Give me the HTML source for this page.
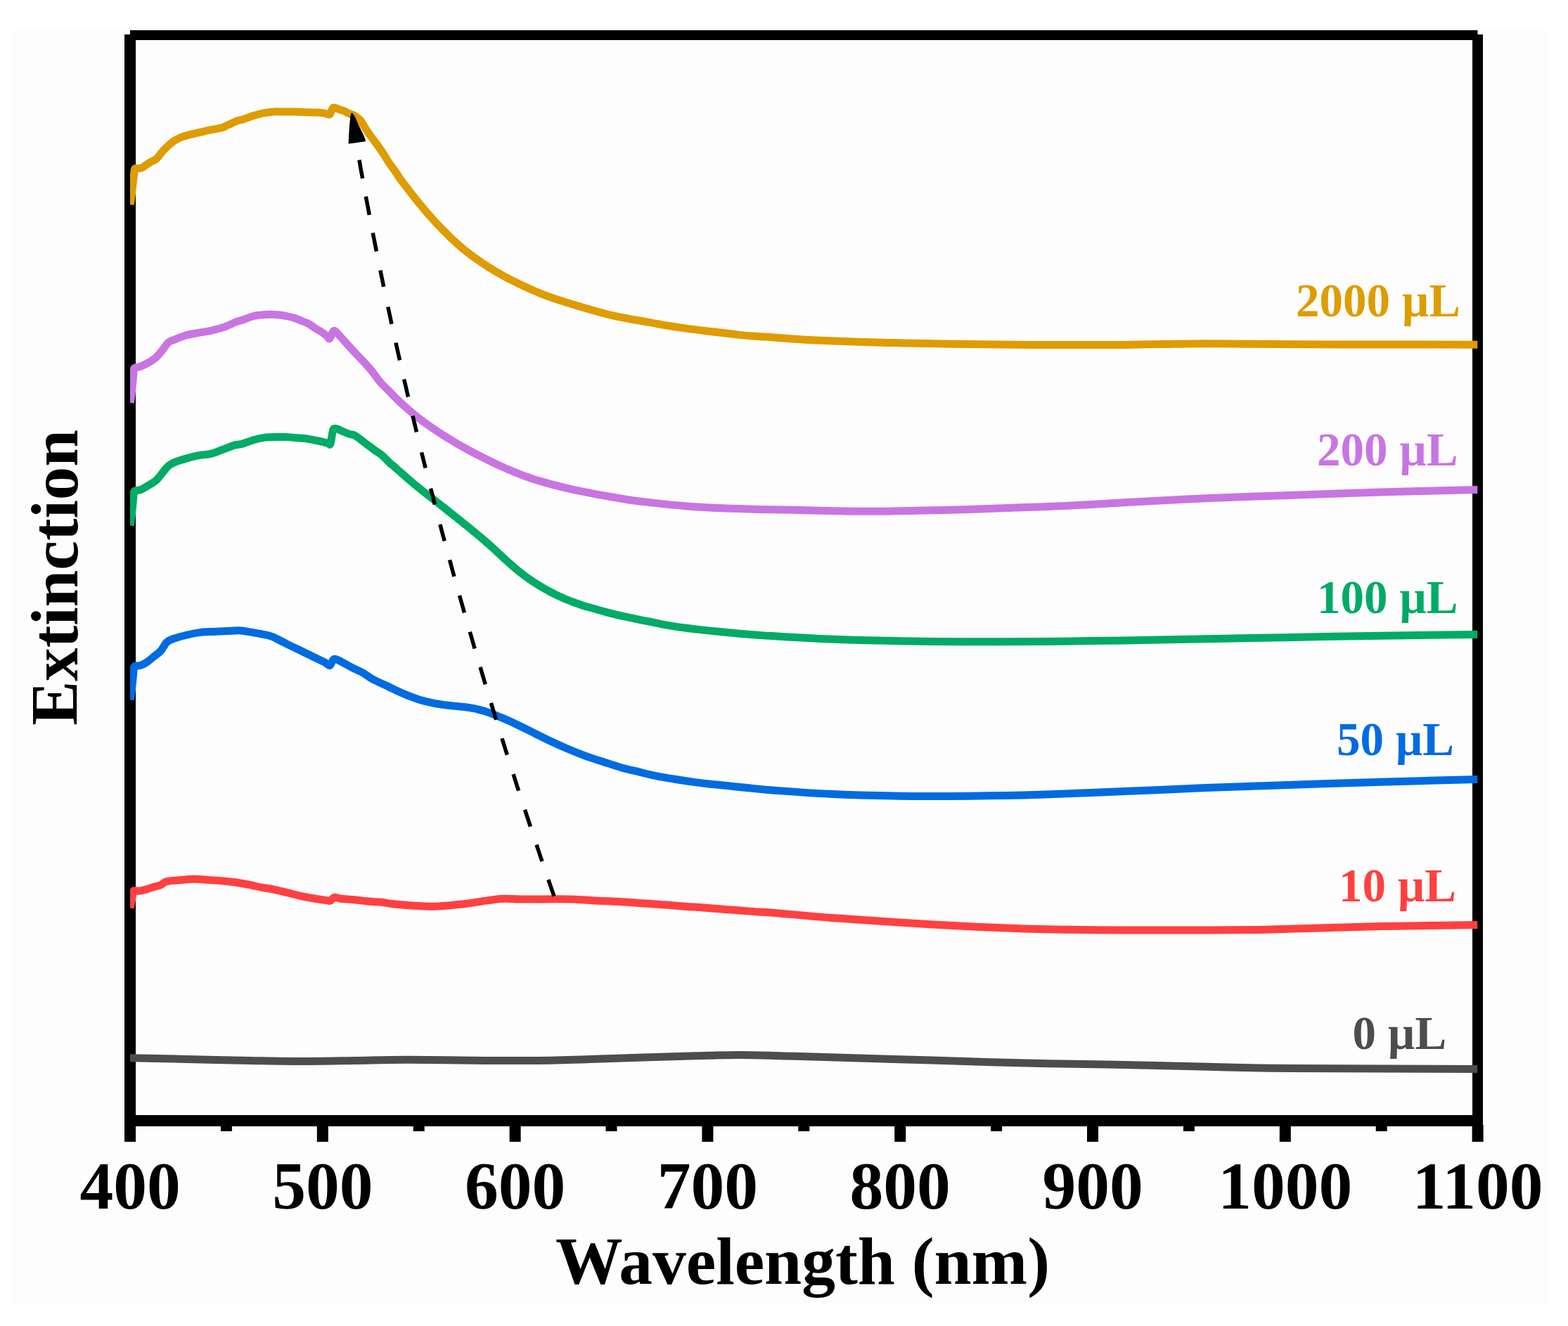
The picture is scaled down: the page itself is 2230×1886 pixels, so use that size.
<!DOCTYPE html><html><head><meta charset="utf-8"><style>html,body{margin:0;padding:0;background:#fff;}svg{display:block;}</style></head><body>
<svg width="2230" height="1886" viewBox="0 0 2230 1886">
<rect x="0" y="0" width="2230" height="1886" fill="#ffffff"/>
<rect x="16" y="43" width="2187" height="1810" fill="#fdfdfd"/>
<g stroke="#000" fill="none" stroke-linecap="butt">
<line x1="185.0" y1="50.0" x2="2101.5" y2="50.0" stroke-width="14"/>
<line x1="185.0" y1="49" x2="185.0" y2="1624" stroke-width="16"/>
<line x1="2101.5" y1="49" x2="2101.5" y2="1624" stroke-width="15"/>
<line x1="177" y1="1594.0" x2="2109" y2="1594.0" stroke-width="16"/>
<line x1="185.0" y1="1600" x2="185.0" y2="1624" stroke-width="16"/>
<line x1="458.8" y1="1600" x2="458.8" y2="1624" stroke-width="16"/>
<line x1="732.6" y1="1600" x2="732.6" y2="1624" stroke-width="16"/>
<line x1="1006.4" y1="1600" x2="1006.4" y2="1624" stroke-width="16"/>
<line x1="1280.2" y1="1600" x2="1280.2" y2="1624" stroke-width="16"/>
<line x1="1554.0" y1="1600" x2="1554.0" y2="1624" stroke-width="16"/>
<line x1="1827.8" y1="1600" x2="1827.8" y2="1624" stroke-width="16"/>
<line x1="2101.6" y1="1600" x2="2101.6" y2="1624" stroke-width="16"/>
<line x1="321.9" y1="1600" x2="321.9" y2="1609" stroke-width="16"/>
<line x1="595.7" y1="1600" x2="595.7" y2="1609" stroke-width="16"/>
<line x1="869.5" y1="1600" x2="869.5" y2="1609" stroke-width="16"/>
<line x1="1143.3" y1="1600" x2="1143.3" y2="1609" stroke-width="16"/>
<line x1="1417.1" y1="1600" x2="1417.1" y2="1609" stroke-width="16"/>
<line x1="1690.9" y1="1600" x2="1690.9" y2="1609" stroke-width="16"/>
<line x1="1964.7" y1="1600" x2="1964.7" y2="1609" stroke-width="16"/>
</g>
<defs><clipPath id="pc"><rect x="185" y="0" width="1916.5" height="1886"/></clipPath></defs>
<g fill="none" stroke-width="11" stroke-linejoin="round" stroke-linecap="butt" clip-path="url(#pc)">
<path stroke="#4D4D4D" d="M185.0,1504.8 C196.6,1505.0 226.5,1505.6 254.8,1506.2 C283.1,1506.8 325.5,1508.0 354.6,1508.5 C383.7,1509.0 404.5,1509.5 429.4,1509.5 C454.3,1509.5 479.3,1508.9 504.2,1508.5 C529.1,1508.1 548.0,1507.3 579.0,1507.3 C610.0,1507.3 659.0,1508.2 690.0,1508.4 C721.0,1508.6 739.9,1508.7 764.8,1508.4 C789.7,1508.1 814.7,1507.3 839.6,1506.6 C864.5,1505.9 889.5,1504.9 914.4,1504.1 C939.3,1503.3 966.4,1502.4 989.3,1501.8 C1012.2,1501.2 1030.8,1500.4 1051.6,1500.4 C1072.4,1500.4 1091.0,1501.3 1113.9,1501.9 C1136.8,1502.5 1153.7,1503.1 1188.8,1504.1 C1223.9,1505.1 1281.3,1506.8 1324.7,1508.1 C1368.1,1509.4 1407.9,1510.8 1449.4,1511.8 C1491.0,1512.8 1529.1,1513.2 1574.0,1514.1 C1618.9,1515.0 1674.9,1516.3 1718.7,1517.2 C1762.5,1518.1 1773.2,1519.1 1837.0,1519.6 C1900.8,1520.1 2057.4,1520.3 2101.5,1520.4"/>
<path stroke="#FF4040" d="M185.3,1291.5 C185.7,1289.4 186.8,1282.9 187.5,1279.0 C188.2,1275.1 189.1,1270.0 189.8,1268.0 C190.6,1266.0 190.4,1267.2 192.0,1267.0 C193.6,1266.8 196.4,1267.5 199.2,1267.1 C202.0,1266.7 205.6,1265.6 208.8,1264.7 C212.0,1263.8 215.2,1262.5 218.4,1261.6 C221.6,1260.6 224.7,1260.3 227.9,1259.0 C231.1,1257.7 232.7,1254.9 237.5,1253.7 C242.3,1252.5 250.3,1252.4 256.7,1251.8 C263.1,1251.2 269.5,1250.3 275.9,1250.3 C282.3,1250.2 288.7,1251.1 295.1,1251.5 C301.5,1251.9 307.8,1252.2 314.2,1252.7 C320.6,1253.2 327.0,1253.9 333.4,1254.8 C339.8,1255.7 346.2,1256.8 352.6,1258.0 C359.0,1259.2 365.7,1261.0 371.8,1262.2 C377.9,1263.4 383.1,1263.8 389.2,1265.1 C395.3,1266.3 402.0,1268.2 408.4,1269.7 C414.8,1271.2 421.1,1273.0 427.5,1274.4 C433.9,1275.8 440.3,1276.9 446.7,1278.0 C453.1,1279.1 462.0,1280.4 465.9,1280.9 C469.8,1281.4 468.4,1281.8 470.0,1281.0 C471.6,1280.2 473.0,1276.9 475.5,1276.4 C478.0,1276.0 480.2,1277.8 485.0,1278.3 C489.8,1278.8 497.8,1279.1 504.2,1279.7 C510.6,1280.3 517.0,1281.5 523.4,1282.1 C529.8,1282.7 536.2,1282.6 542.6,1283.3 C549.0,1284.0 554.6,1285.2 561.8,1286.0 C569.0,1286.8 577.6,1287.4 585.9,1287.9 C594.2,1288.4 603.2,1289.2 611.8,1289.2 C620.4,1289.2 629.1,1288.6 637.7,1287.9 C646.3,1287.2 654.9,1286.4 663.5,1285.3 C672.1,1284.2 680.8,1282.6 689.4,1281.4 C698.0,1280.2 706.7,1278.7 715.3,1278.3 C723.9,1277.9 728.2,1279.0 741.2,1279.1 C754.2,1279.2 780.0,1278.8 793.0,1278.8 C806.0,1278.8 810.3,1278.9 818.9,1279.3 C827.5,1279.7 836.2,1280.5 844.8,1280.9 C853.4,1281.3 862.0,1281.5 870.6,1281.9 C879.2,1282.3 887.9,1282.9 896.5,1283.5 C905.1,1284.1 913.8,1284.7 922.4,1285.3 C931.0,1285.9 939.7,1286.4 948.3,1287.1 C956.9,1287.8 965.6,1288.5 974.2,1289.2 C982.8,1289.9 991.4,1290.3 1000.0,1291.0 C1008.6,1291.7 1017.4,1292.4 1026.0,1293.1 C1034.6,1293.8 1043.2,1294.2 1051.8,1294.9 C1060.4,1295.6 1069.9,1296.5 1077.7,1297.0 C1085.5,1297.5 1081.4,1296.8 1098.4,1298.2 C1115.4,1299.6 1149.6,1303.0 1179.8,1305.3 C1210.0,1307.6 1246.3,1309.9 1279.5,1312.0 C1312.7,1314.1 1346.0,1316.1 1379.2,1317.7 C1412.5,1319.3 1442.4,1320.6 1479.0,1321.5 C1515.6,1322.4 1559.4,1322.8 1598.7,1323.0 C1638.0,1323.2 1682.9,1323.1 1714.7,1323.0 C1746.5,1322.9 1768.7,1322.8 1789.5,1322.5 C1810.3,1322.2 1810.3,1321.7 1839.4,1320.9 C1868.5,1320.1 1920.3,1318.5 1964.0,1317.6 C2007.7,1316.7 2078.6,1315.8 2101.5,1315.4"/>
<path stroke="#006BE1" d="M185.3,995.5 C185.8,992.1 187.2,981.5 188.0,975.0 C188.8,968.5 189.4,961.0 189.8,956.7 C190.2,952.4 190.0,950.6 190.5,949.0 C191.0,947.4 191.6,947.4 193.0,947.0 C194.4,946.6 196.6,947.5 199.2,946.6 C201.8,945.7 205.6,943.9 208.8,941.8 C212.0,939.7 215.2,936.8 218.4,934.2 C221.6,931.7 225.5,928.9 227.9,926.5 C230.3,924.1 231.1,922.0 232.7,919.8 C234.3,917.6 235.1,915.0 237.5,913.1 C239.9,911.2 242.3,910.0 247.1,908.3 C251.9,906.6 259.9,904.5 266.3,903.0 C272.7,901.5 279.1,900.2 285.5,899.4 C291.9,898.6 298.2,898.7 304.6,898.4 C311.0,898.1 317.4,897.6 323.8,897.4 C330.2,897.2 336.6,896.5 343.0,897.0 C349.4,897.5 357.7,899.4 362.2,900.1 C366.7,900.9 366.1,900.7 370.0,901.5 C373.9,902.3 380.2,903.1 385.3,904.9 C390.4,906.7 395.6,909.7 400.7,912.2 C405.8,914.7 410.9,917.4 416.0,919.9 C421.1,922.4 426.2,924.7 431.3,927.2 C436.4,929.7 441.6,932.3 446.7,934.8 C451.8,937.3 458.3,940.1 462.0,942.1 C465.7,944.1 466.7,947.5 468.9,946.7 C471.1,945.9 472.4,938.5 475.1,937.5 C477.8,936.5 480.8,939.0 485.0,941.0 C489.2,943.0 495.3,946.8 500.4,949.4 C505.5,952.0 510.8,953.9 515.7,956.7 C520.6,959.5 524.4,962.9 530.0,966.0 C535.6,969.1 545.2,973.1 549.2,975.0 C553.2,976.9 552.5,976.7 554.2,977.5 C555.9,978.3 557.5,979.1 559.2,979.9 C560.9,980.7 562.5,981.5 564.2,982.3 C565.9,983.0 567.5,983.8 569.2,984.6 C570.9,985.3 572.5,986.0 574.2,986.8 C575.9,987.5 577.5,988.2 579.2,988.9 C580.9,989.6 582.5,990.2 584.2,990.9 C585.9,991.5 587.5,992.1 589.2,992.7 C590.9,993.3 592.5,993.8 594.2,994.4 C595.9,994.9 597.5,995.4 599.2,995.9 C600.9,996.4 602.5,996.8 604.2,997.3 C605.9,997.7 607.5,998.1 609.2,998.5 C610.9,998.9 612.5,999.3 614.2,999.6 C615.9,1000.0 617.5,1000.3 619.2,1000.6 C620.9,1000.9 622.5,1001.2 624.2,1001.4 C625.9,1001.7 627.5,1002.0 629.2,1002.2 C630.9,1002.4 632.5,1002.6 634.2,1002.9 C635.9,1003.1 637.5,1003.3 639.2,1003.4 C640.9,1003.6 642.5,1003.8 644.2,1003.9 C645.9,1004.1 647.5,1004.2 649.2,1004.4 C650.9,1004.6 652.5,1004.7 654.2,1004.9 C655.9,1005.0 657.5,1005.2 659.2,1005.4 C660.9,1005.6 662.5,1005.8 664.2,1006.0 C665.9,1006.3 667.5,1006.5 669.2,1006.8 C670.9,1007.1 672.5,1007.4 674.2,1007.7 C675.9,1008.0 677.5,1008.4 679.2,1008.8 C680.9,1009.2 682.5,1009.6 684.2,1010.1 C685.9,1010.6 687.5,1011.1 689.2,1011.6 C690.9,1012.1 692.5,1012.7 694.2,1013.3 C695.9,1013.8 697.5,1014.5 699.2,1015.1 C700.9,1015.7 702.5,1016.4 704.2,1017.0 C705.9,1017.7 707.5,1018.4 709.2,1019.1 C710.9,1019.7 712.5,1020.4 714.2,1021.1 C715.9,1021.8 717.5,1022.5 719.2,1023.2 C720.9,1024.0 722.7,1024.7 724.2,1025.4 C725.7,1026.1 723.3,1024.8 728.3,1027.2 C733.3,1029.7 745.6,1035.6 754.2,1039.9 C762.8,1044.2 771.4,1048.7 780.0,1052.8 C788.6,1056.9 797.3,1060.8 805.9,1064.5 C814.5,1068.2 823.2,1071.6 831.8,1074.8 C840.4,1078.0 849.1,1080.6 857.7,1083.4 C866.3,1086.2 875.0,1089.2 883.6,1091.7 C892.2,1094.2 900.9,1096.0 909.5,1098.1 C918.1,1100.2 926.8,1102.4 935.4,1104.1 C944.0,1105.8 952.6,1107.1 961.2,1108.5 C969.8,1109.9 978.5,1111.2 987.1,1112.4 C995.7,1113.6 1004.4,1114.5 1013.0,1115.5 C1021.6,1116.5 1030.3,1117.2 1038.9,1118.1 C1047.5,1119.0 1054.9,1119.7 1064.8,1120.7 C1074.7,1121.7 1079.2,1122.6 1098.4,1124.0 C1117.6,1125.4 1149.6,1127.9 1179.8,1129.3 C1210.0,1130.7 1246.3,1131.7 1279.5,1132.2 C1312.7,1132.7 1346.0,1132.5 1379.2,1132.2 C1412.5,1131.9 1442.4,1131.4 1479.0,1130.3 C1515.6,1129.2 1559.4,1127.2 1598.7,1125.6 C1638.0,1124.0 1674.6,1122.2 1714.7,1120.6 C1754.8,1119.0 1797.9,1117.6 1839.4,1116.2 C1881.0,1114.8 1920.3,1113.5 1964.0,1112.2 C2007.7,1110.9 2078.6,1109.0 2101.5,1108.4"/>
<path stroke="#00AB66" d="M185.3,747.5 C185.8,743.9 187.2,732.9 188.0,726.0 C188.8,719.1 189.4,710.5 189.9,706.0 C190.4,701.5 190.0,700.4 190.8,699.0 C191.7,697.6 193.2,698.0 195.0,697.5 C196.8,697.0 198.1,697.4 201.3,695.9 C204.5,694.4 210.5,690.9 214.0,688.7 C217.5,686.5 219.7,685.4 222.5,682.7 C225.3,680.0 228.2,675.8 231.0,672.5 C233.8,669.2 236.7,665.2 239.5,662.7 C242.3,660.2 243.8,659.4 248.0,657.6 C252.2,655.8 259.3,653.7 265.0,652.1 C270.7,650.5 276.3,648.9 282.0,647.8 C287.7,646.7 293.3,647.0 299.0,645.7 C304.7,644.4 310.3,641.8 316.0,639.8 C321.7,637.8 328.1,634.8 333.0,633.4 C337.9,632.0 340.7,632.4 345.3,631.1 C349.9,629.8 355.6,627.2 360.7,625.7 C365.8,624.2 370.9,623.1 376.0,622.4 C381.1,621.7 386.2,621.6 391.3,621.5 C396.4,621.4 401.6,621.3 406.7,621.5 C411.8,621.7 416.9,622.3 422.0,622.8 C427.1,623.2 432.3,623.5 437.4,624.2 C442.5,624.9 448.9,626.4 452.7,627.2 C456.5,628.0 458.0,628.2 460.4,628.8 C462.8,629.4 465.4,630.4 467.0,630.8 C468.6,631.2 468.9,634.1 470.0,631.0 C471.1,627.9 472.4,615.6 473.5,612.0 C474.6,608.4 475.2,609.8 476.5,609.5 C477.8,609.2 479.4,609.9 481.0,610.5 C482.6,611.1 483.2,611.8 486.0,613.0 C488.8,614.2 494.6,616.6 497.5,617.6 C500.4,618.6 501.4,618.0 503.3,618.8 C505.2,619.6 506.1,620.2 509.0,622.2 C511.9,624.2 516.8,628.2 520.6,631.1 C524.5,634.0 528.3,637.0 532.1,639.8 C535.9,642.6 539.8,644.5 543.6,647.8 C547.4,651.0 552.4,656.8 555.1,659.3 C557.8,661.8 558.4,661.7 560.0,663.0 C561.6,664.4 563.3,666.0 565.0,667.5 C566.7,669.0 568.3,670.5 570.0,672.0 C571.7,673.4 573.3,674.9 575.0,676.4 C576.7,677.9 578.3,679.4 580.0,680.8 C581.7,682.2 583.3,683.7 585.0,685.1 C586.7,686.5 588.3,687.9 590.0,689.3 C591.7,690.6 593.3,692.0 595.0,693.3 C596.7,694.7 598.3,696.0 600.0,697.3 C601.7,698.6 603.3,699.9 605.0,701.3 C606.7,702.6 608.3,703.9 610.0,705.2 C611.7,706.5 613.3,707.8 615.0,709.1 C616.7,710.4 618.3,711.7 620.0,713.0 C621.7,714.3 623.3,715.7 625.0,717.0 C626.7,718.3 628.3,719.6 630.0,720.9 C631.7,722.2 633.3,723.5 635.0,724.9 C636.7,726.2 638.3,727.5 640.0,728.8 C641.7,730.1 643.3,731.4 645.0,732.8 C646.7,734.1 648.3,735.4 650.0,736.7 C651.7,738.1 653.3,739.4 655.0,740.7 C656.7,742.1 658.3,743.4 660.0,744.8 C661.7,746.1 663.3,747.5 665.0,748.8 C666.7,750.2 668.3,751.5 670.0,752.9 C671.7,754.3 673.3,755.6 675.0,757.0 C676.7,758.4 678.3,759.8 680.0,761.2 C681.7,762.6 683.3,764.0 685.0,765.4 C686.7,766.8 688.3,768.2 690.0,769.7 C691.7,771.1 693.3,772.6 695.0,774.1 C696.7,775.5 698.3,777.0 700.0,778.5 C701.7,780.1 703.3,781.6 705.0,783.1 C706.7,784.7 708.3,786.2 710.0,787.8 C711.7,789.3 713.3,790.9 715.0,792.4 C716.7,794.0 718.3,795.5 720.0,797.0 C721.7,798.5 723.3,800.1 725.0,801.6 C726.7,803.0 728.3,804.5 730.0,805.9 C731.7,807.4 733.3,808.8 735.0,810.2 C736.7,811.5 738.3,812.9 740.0,814.2 C741.7,815.5 743.3,816.8 745.0,818.0 C746.7,819.3 748.3,820.5 750.0,821.7 C751.7,822.9 753.3,824.0 755.0,825.2 C756.7,826.3 758.3,827.4 760.0,828.5 C761.7,829.6 763.3,830.6 765.0,831.6 C766.7,832.7 768.3,833.7 770.0,834.7 C771.7,835.7 773.3,836.6 775.0,837.6 C776.7,838.5 778.3,839.5 780.0,840.4 C781.7,841.3 783.3,842.2 785.0,843.0 C786.7,843.9 788.3,844.7 790.0,845.6 C791.7,846.4 793.3,847.2 795.0,848.0 C796.7,848.7 798.3,849.5 800.0,850.2 C801.7,851.0 803.3,851.7 805.0,852.4 C806.7,853.1 808.3,853.7 810.0,854.4 C811.7,855.0 813.3,855.7 815.0,856.3 C816.7,856.9 818.3,857.5 820.0,858.1 C821.7,858.7 823.3,859.3 825.0,859.8 C826.7,860.4 828.6,861.0 830.0,861.5 C831.4,862.0 830.9,861.9 833.4,862.6 C835.9,863.3 838.6,864.1 844.8,865.8 C851.0,867.5 862.0,870.6 870.6,872.8 C879.2,874.9 887.9,876.9 896.5,878.7 C905.1,880.6 913.8,882.2 922.4,883.9 C931.0,885.6 939.7,887.6 948.3,889.1 C956.9,890.6 965.6,891.8 974.2,893.0 C982.8,894.2 991.4,895.1 1000.0,896.1 C1008.6,897.1 1017.4,897.8 1026.0,898.7 C1034.6,899.6 1043.2,900.5 1051.8,901.3 C1060.4,902.1 1069.9,902.8 1077.7,903.3 C1085.5,903.8 1081.4,903.6 1098.4,904.6 C1115.4,905.6 1149.6,907.8 1179.8,909.0 C1210.0,910.2 1246.3,911.1 1279.5,911.7 C1312.7,912.3 1346.0,912.7 1379.2,912.8 C1412.5,912.9 1442.4,912.8 1479.0,912.5 C1515.6,912.2 1559.4,911.5 1598.7,910.9 C1638.0,910.3 1674.6,909.5 1714.7,908.7 C1754.8,908.0 1797.9,907.1 1839.4,906.4 C1881.0,905.6 1920.3,904.9 1964.0,904.2 C2007.7,903.5 2078.6,902.7 2101.5,902.4"/>
<path stroke="#C875E2" d="M185.3,573.0 C185.8,569.5 187.2,558.8 188.0,552.0 C188.8,545.2 189.3,536.7 189.8,532.0 C190.3,527.3 189.9,525.6 190.8,524.0 C191.7,522.4 193.2,523.1 195.0,522.5 C196.8,521.9 198.1,522.0 201.3,520.6 C204.5,519.2 210.5,516.3 214.0,514.2 C217.5,512.1 219.7,510.5 222.5,507.8 C225.3,505.1 228.2,501.5 231.0,498.0 C233.8,494.5 236.7,489.5 239.5,487.0 C242.3,484.5 243.8,484.8 248.0,483.1 C252.2,481.4 259.3,478.4 265.0,476.8 C270.7,475.2 276.3,474.4 282.0,473.4 C287.7,472.4 293.3,471.8 299.0,470.6 C304.7,469.4 311.7,467.4 316.0,466.1 C320.3,464.8 321.1,464.2 324.6,462.7 C328.2,461.2 333.9,458.5 337.3,457.2 C340.8,455.9 341.4,456.3 345.3,455.0 C349.2,453.7 355.6,450.7 360.7,449.5 C365.8,448.3 370.9,448.0 376.0,447.6 C381.1,447.2 387.3,447.3 391.3,447.4 C395.3,447.5 396.9,447.9 400.0,448.3 C403.1,448.7 406.4,449.3 409.6,450.0 C412.8,450.7 416.0,451.4 419.2,452.5 C422.4,453.6 425.6,455.0 428.8,456.3 C432.0,457.6 435.2,458.7 438.4,460.4 C441.6,462.1 444.7,464.6 447.9,466.6 C451.1,468.6 454.7,470.6 457.5,472.4 C460.3,474.2 462.6,476.1 464.5,477.6 C466.4,479.1 467.2,482.7 468.9,481.5 C470.6,480.3 472.5,471.0 474.9,470.4 C477.3,469.8 480.9,475.4 483.4,477.9 C485.9,480.4 486.6,481.6 490.0,485.3 C493.4,489.0 499.1,495.4 503.6,500.3 C508.1,505.2 513.0,510.0 517.2,514.6 C521.4,519.2 525.0,523.1 529.0,528.0 C533.0,532.9 537.3,539.4 541.3,544.0 C545.2,548.6 550.0,552.7 552.7,555.5 C555.4,558.3 556.0,559.1 557.7,560.8 C559.4,562.5 561.0,564.2 562.7,565.9 C564.4,567.5 566.0,569.1 567.7,570.7 C569.4,572.3 571.0,573.9 572.7,575.4 C574.4,576.9 576.0,578.4 577.7,579.9 C579.4,581.4 581.0,582.8 582.7,584.2 C584.4,585.7 586.0,587.1 587.7,588.4 C589.4,589.8 591.0,591.1 592.7,592.5 C594.4,593.8 596.0,595.1 597.7,596.4 C599.4,597.6 601.0,598.9 602.7,600.1 C604.4,601.4 606.0,602.6 607.7,603.8 C609.4,605.0 611.0,606.1 612.7,607.3 C614.4,608.5 616.0,609.6 617.7,610.7 C619.4,611.8 621.0,613.0 622.7,614.0 C624.4,615.1 626.0,616.2 627.7,617.3 C629.4,618.3 631.0,619.4 632.7,620.4 C634.4,621.5 636.0,622.5 637.7,623.6 C639.4,624.6 641.0,625.6 642.7,626.6 C644.4,627.6 646.0,628.6 647.7,629.6 C649.4,630.6 651.0,631.6 652.7,632.5 C654.4,633.5 656.0,634.4 657.7,635.4 C659.4,636.3 661.0,637.3 662.7,638.2 C664.4,639.1 666.0,640.0 667.7,640.9 C669.4,641.8 671.0,642.7 672.7,643.5 C674.4,644.4 676.0,645.3 677.7,646.2 C679.4,647.0 681.0,647.9 682.7,648.7 C684.4,649.5 686.0,650.4 687.7,651.2 C689.4,652.1 691.0,652.9 692.7,653.7 C694.4,654.5 696.0,655.3 697.7,656.1 C699.4,657.0 701.0,657.8 702.7,658.6 C704.4,659.4 706.0,660.1 707.7,660.9 C709.4,661.7 711.0,662.5 712.7,663.2 C714.4,664.0 716.0,664.8 717.7,665.5 C719.4,666.2 721.0,667.0 722.7,667.7 C724.4,668.4 726.0,669.1 727.7,669.8 C729.4,670.5 731.0,671.2 732.7,671.9 C734.4,672.6 736.0,673.2 737.7,673.9 C739.4,674.5 741.0,675.2 742.7,675.8 C744.4,676.4 746.0,677.0 747.7,677.6 C749.4,678.2 751.8,679.1 752.7,679.4 C753.7,679.7 751.0,678.9 753.4,679.6 C755.8,680.4 760.5,682.1 767.1,684.0 C773.7,685.9 784.4,689.0 793.0,691.2 C801.6,693.4 810.3,695.3 818.9,697.2 C827.5,699.1 836.2,700.8 844.8,702.4 C853.4,704.0 862.0,705.5 870.6,707.0 C879.2,708.5 887.9,710.0 896.5,711.2 C905.1,712.5 913.8,713.5 922.4,714.5 C931.0,715.5 939.7,716.5 948.3,717.4 C956.9,718.3 965.6,719.0 974.2,719.7 C982.8,720.4 991.4,721.0 1000.0,721.5 C1008.6,722.0 1017.4,722.4 1026.0,722.8 C1034.6,723.1 1043.2,723.3 1051.8,723.6 C1060.4,723.9 1060.5,724.0 1077.7,724.4 C1094.9,724.8 1129.5,725.4 1154.8,725.9 C1180.1,726.4 1204.7,727.2 1229.6,727.3 C1254.5,727.4 1279.5,726.8 1304.4,726.3 C1329.3,725.8 1354.3,725.2 1379.2,724.5 C1404.1,723.8 1429.0,722.8 1454.0,721.8 C1479.0,720.8 1504.8,720.0 1528.9,718.8 C1553.0,717.6 1567.7,716.4 1598.7,714.7 C1629.7,713.0 1674.6,710.5 1714.7,708.7 C1754.8,707.0 1797.9,705.7 1839.4,704.2 C1881.0,702.8 1920.3,701.3 1964.0,700.0 C2007.7,698.7 2078.6,697.2 2101.5,696.6"/>
<path stroke="#DE9C00" d="M185.3,291.0 C185.8,287.5 187.2,276.8 188.0,270.0 C188.8,263.2 189.8,254.9 190.4,250.0 C191.0,245.1 190.7,242.2 191.5,240.5 C192.3,238.8 193.4,239.8 195.0,239.5 C196.6,239.2 199.1,239.7 201.3,238.9 C203.5,238.1 205.9,235.9 208.0,234.5 C210.1,233.1 211.6,231.8 214.0,230.4 C216.4,229.0 219.7,228.4 222.5,225.9 C225.3,223.4 228.2,218.7 231.0,215.5 C233.8,212.3 236.7,209.6 239.5,207.0 C242.3,204.4 245.2,202.0 248.0,200.2 C250.8,198.4 253.2,197.2 256.0,196.0 C258.8,194.8 260.7,194.1 265.0,192.9 C269.3,191.7 276.3,190.0 282.0,188.7 C287.7,187.4 293.3,186.1 299.0,184.9 C304.7,183.7 311.7,182.7 316.0,181.5 C320.3,180.3 321.1,179.2 324.6,177.6 C328.2,176.0 333.9,173.2 337.3,171.9 C340.8,170.6 341.4,171.1 345.3,169.9 C349.2,168.7 355.6,166.0 360.7,164.5 C365.8,163.0 370.9,161.6 376.0,160.7 C381.1,159.8 386.2,159.1 391.3,158.8 C396.4,158.5 401.6,159.1 406.7,159.1 C411.8,159.1 416.9,158.9 422.0,159.0 C427.1,159.1 432.3,159.6 437.4,159.8 C442.5,160.0 448.9,159.9 452.7,160.1 C456.5,160.3 457.9,160.3 460.4,160.8 C462.9,161.3 465.9,163.0 467.5,163.0 C469.1,163.0 468.9,162.7 470.0,161.0 C471.1,159.3 472.1,153.8 474.3,153.0 C476.5,152.2 480.8,155.3 483.4,156.1 C486.0,156.9 488.1,157.2 490.0,158.0 C491.9,158.8 492.8,159.9 495.0,160.9 C497.2,161.9 500.1,162.3 503.0,164.0 C505.9,165.7 509.8,168.0 512.5,171.0 C515.2,174.0 516.8,178.2 519.3,182.0 C521.8,185.8 524.5,189.8 527.5,194.0 C530.5,198.2 534.4,203.1 537.4,207.3 C540.4,211.6 543.1,215.5 545.7,219.5 C548.4,223.5 550.4,227.2 553.3,231.5 C556.2,235.8 560.3,241.1 563.0,245.0 C565.7,248.9 566.2,250.4 569.5,255.0 C572.8,259.6 579.9,268.5 583.0,272.5 C586.1,276.5 586.3,276.9 588.0,279.0 C589.7,281.2 591.3,283.3 593.0,285.4 C594.7,287.4 596.3,289.5 598.0,291.5 C599.7,293.5 601.3,295.5 603.0,297.5 C604.7,299.5 606.3,301.4 608.0,303.3 C609.7,305.2 611.3,307.1 613.0,309.0 C614.7,310.9 616.3,312.7 618.0,314.5 C619.7,316.3 621.3,318.1 623.0,319.9 C624.7,321.6 626.3,323.4 628.0,325.1 C629.7,326.8 631.3,328.5 633.0,330.2 C634.7,331.9 636.3,333.5 638.0,335.2 C639.7,336.8 641.3,338.4 643.0,340.0 C644.7,341.5 646.3,343.1 648.0,344.6 C649.7,346.1 651.3,347.6 653.0,349.1 C654.7,350.5 656.3,352.0 658.0,353.4 C659.7,354.8 661.3,356.1 663.0,357.5 C664.7,358.8 666.3,360.1 668.0,361.3 C669.7,362.6 671.3,363.8 673.0,365.1 C674.7,366.3 676.3,367.5 678.0,368.6 C679.7,369.8 681.3,370.9 683.0,372.1 C684.7,373.2 686.3,374.3 688.0,375.4 C689.7,376.5 691.3,377.6 693.0,378.6 C694.7,379.7 696.3,380.8 698.0,381.8 C699.7,382.8 701.3,383.9 703.0,384.9 C704.7,385.9 706.3,386.9 708.0,387.9 C709.7,388.8 711.3,389.8 713.0,390.7 C714.7,391.7 716.3,392.6 718.0,393.5 C719.7,394.4 721.3,395.3 723.0,396.2 C724.7,397.0 726.3,397.9 728.0,398.7 C729.7,399.6 731.3,400.4 733.0,401.2 C734.7,402.1 736.3,402.9 738.0,403.7 C739.7,404.5 741.3,405.3 743.0,406.0 C744.7,406.8 746.3,407.6 748.0,408.4 C749.7,409.1 751.3,409.9 753.0,410.7 C754.7,411.4 756.3,412.1 758.0,412.9 C759.7,413.6 761.3,414.3 763.0,415.0 C764.7,415.7 766.3,416.4 768.0,417.1 C769.7,417.8 771.3,418.4 773.0,419.1 C774.7,419.7 776.3,420.3 778.0,421.0 C779.7,421.6 781.3,422.2 783.0,422.8 C784.7,423.3 786.3,423.9 788.0,424.5 C789.7,425.1 791.3,425.6 793.0,426.2 C794.7,426.7 796.3,427.2 798.0,427.8 C799.7,428.3 801.3,428.8 803.0,429.4 C804.7,429.9 806.3,430.4 808.0,430.9 C809.7,431.5 811.3,432.0 813.0,432.5 C814.7,433.0 816.3,433.5 818.0,434.0 C819.7,434.5 818.5,434.2 823.0,435.5 C827.5,436.8 836.9,439.6 844.8,441.8 C852.7,444.0 862.0,446.7 870.6,448.7 C879.2,450.7 887.9,452.3 896.5,453.9 C905.1,455.5 913.8,456.8 922.4,458.3 C931.0,459.8 939.7,461.6 948.3,463.0 C956.9,464.4 965.6,465.7 974.2,466.9 C982.8,468.1 991.4,469.1 1000.0,470.2 C1008.6,471.3 1017.4,472.3 1026.0,473.3 C1034.6,474.3 1043.2,475.5 1051.8,476.4 C1060.4,477.3 1069.9,477.9 1077.7,478.5 C1085.5,479.1 1085.6,478.9 1098.4,479.8 C1111.2,480.7 1128.8,482.6 1154.8,483.8 C1180.8,485.0 1221.3,486.3 1254.6,487.2 C1287.8,488.1 1319.0,488.7 1354.3,489.2 C1389.6,489.7 1425.8,490.2 1466.5,490.4 C1507.2,490.6 1557.3,490.7 1598.7,490.4 C1640.1,490.1 1672.8,488.9 1714.7,488.8 C1756.6,488.7 1802.5,489.6 1850.0,489.8 C1897.5,490.0 1958.1,489.9 2000.0,490.0 C2041.9,490.1 2084.6,490.2 2101.5,490.3"/>
</g>
<g stroke="#000" stroke-width="5.5" fill="none" stroke-linecap="butt">
<polyline points="510.9,227.6 512.1,234.2 513.2,240.7 514.4,247.2 515.6,253.8"/>
<polyline points="520.3,279.5 521.6,286.1 522.8,292.6 524.1,299.2 525.3,305.8"/>
<polyline points="530.2,331.2 531.5,337.8 532.8,344.4 534.1,350.9 535.4,357.5"/>
<polyline points="540.9,384.5 542.1,390.4 543.3,396.2 544.5,402.0 545.7,407.9"/>
<polyline points="551.8,436.5 553.1,442.6 554.4,448.7 555.7,454.8 557.0,460.9"/>
<polyline points="562.9,487.5 564.3,493.7 565.7,499.9 567.1,506.1 568.5,512.3"/>
<polyline points="574.6,539.3 576.1,545.6 577.6,551.9 579.0,558.2 580.5,564.5"/>
<polyline points="586.9,591.5 588.3,597.2 589.7,603.0 591.1,608.8 592.5,614.5"/>
<polyline points="599.5,643.3 600.9,648.9 602.3,654.5 603.7,660.0 605.1,665.6"/>
<polyline points="612.5,694.7 614.0,700.4 615.5,706.1 616.9,711.8 618.4,717.5"/>
<polyline points="625.9,745.9 627.4,751.8 629.0,757.7 630.6,763.6 632.2,769.5"/>
<polyline points="639.5,796.4 641.1,802.3 642.7,808.2 644.3,814.1 646.0,820.0"/>
<polyline points="653.5,846.9 655.2,853.0 656.9,859.1 658.7,865.3 660.4,871.4"/>
<polyline points="668.2,898.7 670.0,904.6 671.7,910.5 673.4,916.5 675.1,922.4"/>
<polyline points="683.0,948.9 684.8,955.0 686.6,961.1 688.5,967.3 690.3,973.4"/>
<polyline points="698.3,999.9 700.2,1005.9 702.0,1011.8 703.8,1017.8 705.7,1023.7"/>
<polyline points="713.9,1050.2 715.7,1056.1 717.6,1062.0 719.4,1067.8 721.3,1073.7"/>
<polyline points="730.1,1101.2 732.0,1107.1 733.8,1113.0 735.7,1118.8 737.6,1124.7"/>
<polyline points="746.5,1151.7 748.4,1157.7 750.4,1163.7 752.4,1169.7 754.4,1175.7"/>
<polyline points="763.0,1201.5 765.0,1207.4 767.0,1213.3 769.0,1219.3 771.0,1225.2"/>
<polyline points="779.9,1251.2 781.9,1257.0 783.9,1262.8 785.9,1268.7 788.0,1274.5"/>
</g>
<polygon fill="#000" points="499.6,160.8 501.3,160.8 505.4,167.2 510.8,179.5 516.9,191.7 519.9,199.3 519.4,201.2 507,203 495.6,204.4 496.2,190.3 497.2,176.7 498.4,165"/>
<text x="185.0" y="1719" font-family="'Liberation Serif','Times New Roman',serif" font-weight="bold" font-size="95.5" fill="#000" text-anchor="middle" >400</text>
<text x="458.8" y="1719" font-family="'Liberation Serif','Times New Roman',serif" font-weight="bold" font-size="95.5" fill="#000" text-anchor="middle" >500</text>
<text x="732.6" y="1719" font-family="'Liberation Serif','Times New Roman',serif" font-weight="bold" font-size="95.5" fill="#000" text-anchor="middle" >600</text>
<text x="1006.4" y="1719" font-family="'Liberation Serif','Times New Roman',serif" font-weight="bold" font-size="95.5" fill="#000" text-anchor="middle" >700</text>
<text x="1280.2" y="1719" font-family="'Liberation Serif','Times New Roman',serif" font-weight="bold" font-size="95.5" fill="#000" text-anchor="middle" >800</text>
<text x="1554.0" y="1719" font-family="'Liberation Serif','Times New Roman',serif" font-weight="bold" font-size="95.5" fill="#000" text-anchor="middle" >900</text>
<text x="1827.8" y="1719" font-family="'Liberation Serif','Times New Roman',serif" font-weight="bold" font-size="95.5" fill="#000" text-anchor="middle" >1000</text>
<text x="2101.6" y="1719" font-family="'Liberation Serif','Times New Roman',serif" font-weight="bold" font-size="95.5" fill="#000" text-anchor="middle" >1100</text>
<text x="1141.5" y="1826" font-family="'Liberation Serif','Times New Roman',serif" font-weight="bold" font-size="95.5" fill="#000" text-anchor="middle" >Wavelength (nm)</text>
<text x="0" y="0" font-family="'Liberation Serif','Times New Roman',serif" font-weight="bold" font-size="94.6" fill="#000" text-anchor="middle" transform="translate(109.5,821.5) rotate(-90)">Extinction</text>
<text x="1843" y="449.7" font-family="'Liberation Serif','Times New Roman',serif" font-weight="bold" font-size="67" fill="#DE9C00" text-anchor="start" >2000 µL</text>
<text x="1873" y="662" font-family="'Liberation Serif','Times New Roman',serif" font-weight="bold" font-size="67" fill="#C875E2" text-anchor="start" >200 µL</text>
<text x="1873" y="871.8" font-family="'Liberation Serif','Times New Roman',serif" font-weight="bold" font-size="67" fill="#00AB66" text-anchor="start" >100 µL</text>
<text x="1901" y="1074.1" font-family="'Liberation Serif','Times New Roman',serif" font-weight="bold" font-size="67" fill="#006BE1" text-anchor="start" >50 µL</text>
<text x="1904" y="1281.6" font-family="'Liberation Serif','Times New Roman',serif" font-weight="bold" font-size="67" fill="#FF4040" text-anchor="start" >10 µL</text>
<text x="1923.6" y="1491.8" font-family="'Liberation Serif','Times New Roman',serif" font-weight="bold" font-size="67" fill="#4D4D4D" text-anchor="start" >0 µL</text>
</svg></body></html>
